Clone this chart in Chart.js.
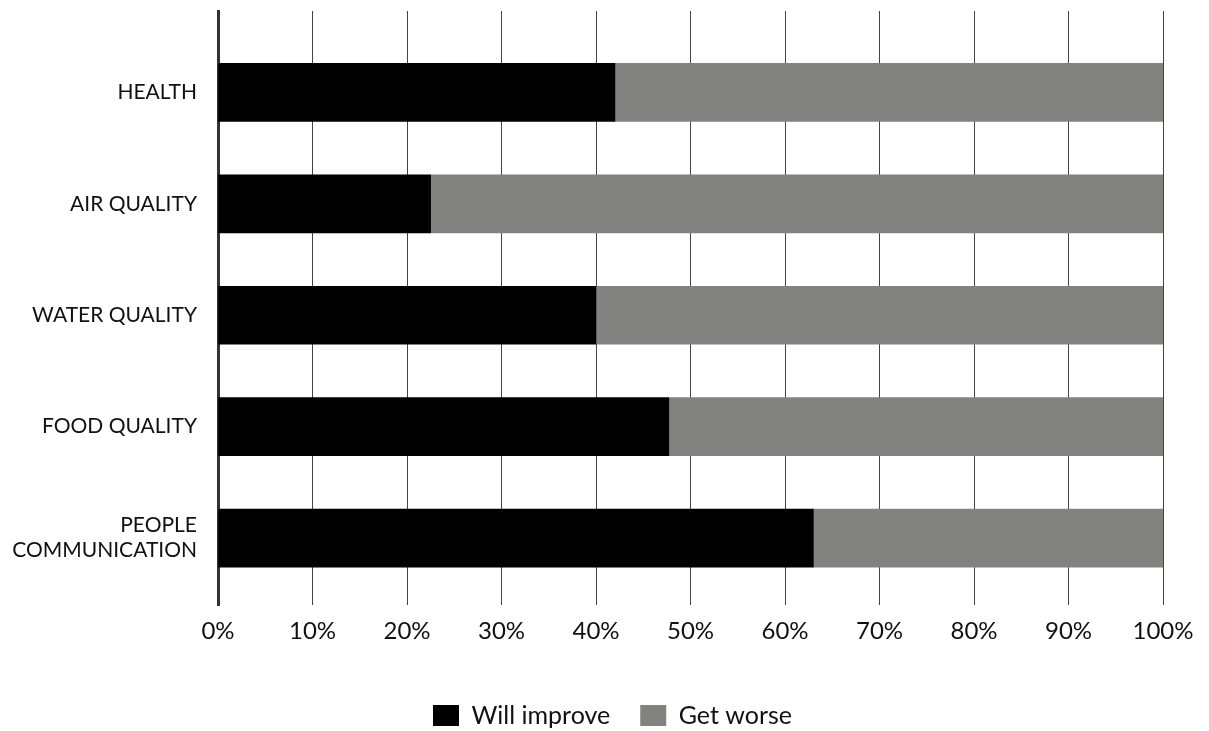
<!DOCTYPE html>
<html>
<head>
<meta charset="utf-8">
<script src="https://cdn.jsdelivr.net/npm/chart.js@4"></script>
<style>
  html, body { margin: 0; padding: 0; background: #fff; }
  #wrap { width: 1209px; height: 731px; }
</style>
</head>
<body>
<div id="wrap"><canvas id="c" width="1209" height="731"></canvas></div>
<script>
const categories = ['HEALTH', 'AIR QUALITY', 'WATER QUALITY', 'FOOD QUALITY', ['PEOPLE', 'COMMUNICATION']];
const willImprove = [42, 22.5, 40, 47.7, 63];
const getWorse = [58, 77.5, 60, 52.3, 37];
const xTicks = [0, 10, 20, 30, 40, 50, 60, 70, 80, 90, 100];
const seriesNames = ['Will improve', 'Get worse'];

const FONT = 'Lato';

const legendShift = {
  id: 'legendShift',
  afterLayout(chart) {
    const lg = chart.legend;
    if (lg) { lg.top += 7; lg.bottom += 7; lg.left += 31; lg.right += 31; }
  }
};

new Chart(document.getElementById('c'), {
  type: 'bar',
  data: {
    datasets: [
      {
        label: seriesNames[0],
        data: willImprove.map((v, i) => ({ x: v, y: i })),
        backgroundColor: '#000000',
        barThickness: 58
      },
      {
        label: seriesNames[1],
        data: getWorse.map((v, i) => ({ x: v, y: i })),
        backgroundColor: '#828381',
        barThickness: 58
      }
    ]
  },
  plugins: [legendShift],
  options: {
    indexAxis: 'y',
    responsive: false,
    animation: false,
    layout: { autoPadding: false, padding: { top: 11, right: 46, left: 0, bottom: 0 } },
    scales: {
      x: {
        type: 'linear',
        stacked: true,
        min: 0,
        max: 100,
        afterBuildTicks: (axis) => { axis.ticks = xTicks.map(v => ({ value: v })); },
        afterFit: (axis) => { axis.height = 61; },
        ticks: {
          callback: (v) => v + '%',
          color: '#111',
          font: { family: FONT, size: 24 },
          padding: 12,
          maxRotation: 0
        },
        grid: { color: '#444', lineWidth: 1, drawTicks: false },
        border: { display: false }
      },
      y: {
        type: 'linear',
        stacked: true,
        reverse: true,
        offset: false,
        min: -0.73,
        max: 4.6,
        afterBuildTicks: (axis) => { axis.ticks = categories.map((_, i) => ({ value: i })); },
        afterFit: (axis) => {
          axis.width = 218;
          axis.paddingTop = 0; axis.paddingBottom = 0;
        },
        ticks: {
          callback: (v) => categories[v],
          color: '#111',
          font: { family: FONT, size: 21, lineHeight: 1.2 },
          padding: 13
        },
        grid: { display: false, offset: false },
        border: { display: true, color: '#333', width: 3 }
      }
    },
    plugins: {
      legend: {
        position: 'bottom',
        labels: {
          font: { family: FONT, size: 25 },
          color: '#111',
          boxWidth: 26,
          boxHeight: 21,
          padding: 30
        }
      },
      tooltip: { enabled: false }
    }
  }
});
</script>
</body>
</html>
